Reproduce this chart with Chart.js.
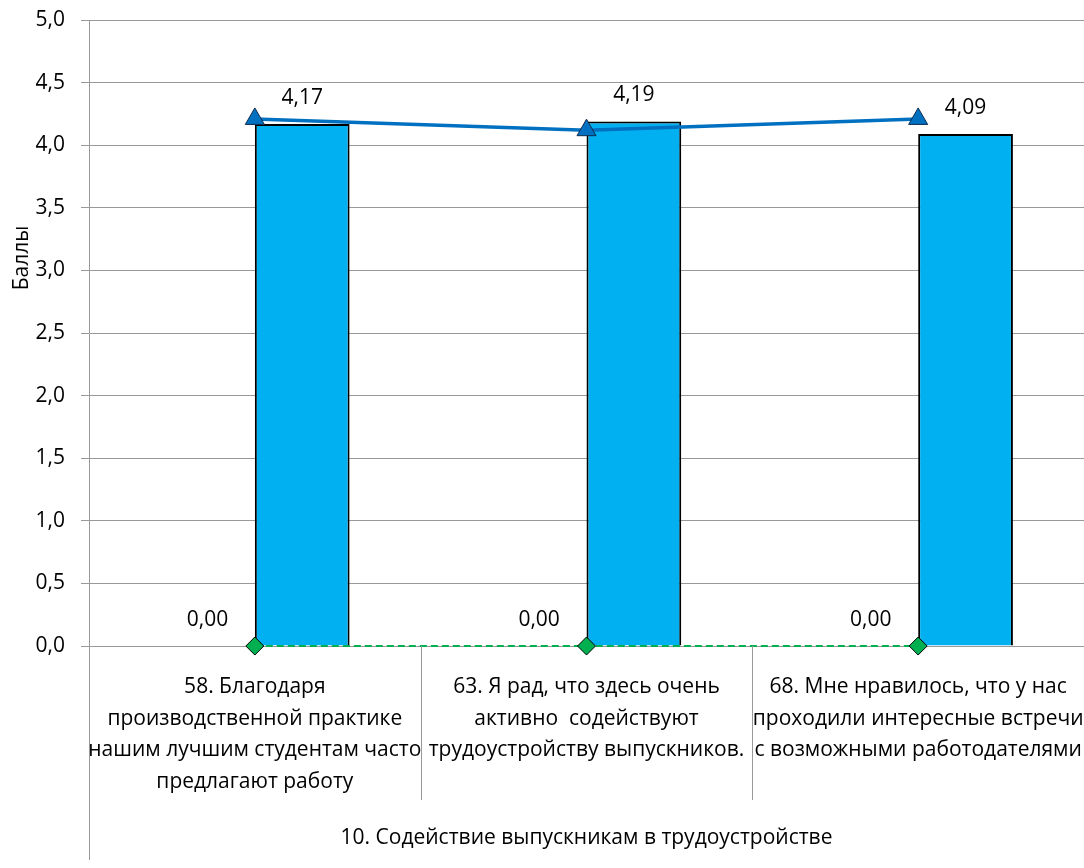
<!DOCTYPE html>
<html>
<head>
<meta charset="utf-8">
<script src="https://cdn.jsdelivr.net/npm/chart.js@4/dist/chart.umd.min.js"></script>
<style>
  body { margin: 0; background: #fff; }
</style>
</head>
<body>
<canvas id="Chart" width="1084" height="868"></canvas>
<script>
 // data
 const categories = [
   ['58. Благодаря', 'производственной практике', 'нашим лучшим студентам часто', 'предлагают работу'],
   ['63. Я рад, что здесь очень', 'активно  содействуют', 'трудоустройству выпускников.'],
   ['68. Мне нравилось, что у нас', 'проходили интересные встречи', 'с возможными работодателями']
 ];
 const groupLabel = '10. Содействие выпускникам в трудоустройстве';
 const zeroBars = [0, 0, 0];
 const scoreBars = [4.17, 4.19, 4.09];
 const blueLine = [4.21, 4.12, 4.21];
 const greenLine = [0, 0, 0];
 const yTicks = [0, 0.5, 1, 1.5, 2, 2.5, 3, 3.5, 4, 4.5, 5];

 const FONT = '"Open Sans", Lato, sans-serif';
 const FS = 21;
 const comma = (v, d) => v.toFixed(d).replace('.', ',');

 // labels, separators and titles that Chart.js can't do by itself
 const extras = {
   id: 'extras',
   afterDatasetsDraw(chart) {
     const c = chart.ctx;
     const x = chart.scales.x, a = chart.chartArea;
     c.save();
     c.font = FS + 'px ' + FONT;
     c.fillStyle = '#000';
     c.textAlign = 'center';
     c.textBaseline = 'middle';
     [0, 1].forEach(di => {
       chart.getDatasetMeta(di).data.forEach((bar, i) => {
         const v = chart.data.datasets[di].data[i];
         c.fillText(comma(v, 2), bar.x, bar.y - 26);
       });
     });
     // category separators
     c.strokeStyle = '#999';
     c.lineWidth = 1;
     for (let i = 1; i < categories.length; i++) {
       const px = Math.round((x.getPixelForValue(i - 1) + x.getPixelForValue(i)) / 2) + 0.5;
       c.beginPath(); c.moveTo(px, a.bottom); c.lineTo(px, a.bottom + 154); c.stroke();
     }
     // axis line continues down
     c.beginPath(); c.moveTo(a.left + 0.5, a.bottom); c.lineTo(a.left + 0.5, a.bottom + 214); c.stroke();
     c.fillText(groupLabel, (a.left + a.right) / 2, a.bottom + 192);
     // y title
     c.translate(22, 258);
     c.rotate(-Math.PI / 2);
     c.fillText('Баллы', 0, 0);
     c.restore();
   }
 };

 const ctx = document.getElementById('Chart').getContext('2d');
 const myChart = new Chart(ctx, {
   type: 'bar',
   data: {
     labels: categories,
     datasets: [{
       label: 'zero',
       data: zeroBars,
       backgroundColor: '#00B0F0',
       borderColor: '#000',
       borderWidth: 2,
       order: 2
     }, {
       label: 'score',
       data: scoreBars,
       backgroundColor: '#00B0F0',
       borderColor: '#000',
       borderWidth: 2,
       order: 2
     }, {
       type: 'line',
       label: 'blue',
       data: blueLine,
       borderColor: '#0070C0',
       borderWidth: 3.5,
       pointStyle: 'triangle',
       pointRadius: 11,
       pointBackgroundColor: '#0070C0',
       pointBorderColor: '#0d2c4f',
       pointBorderWidth: 1,
       clip: false,
       order: 0
     }, {
       type: 'line',
       label: 'green',
       data: greenLine,
       borderColor: '#00B050',
       borderWidth: 2,
       borderDash: [7, 4],
       pointStyle: 'rectRot',
       pointRadius: 9,
       pointBackgroundColor: '#00B050',
       pointBorderColor: '#000',
       pointBorderWidth: 1,
       clip: false,
       order: 1
     }]
   },
   options: {
     responsive: false,
     animation: false,
     layout: { autoPadding: false, padding: { top: 20, right: 0, left: 0, bottom: 0 } },
     categoryPercentage: 0.5714,
     barPercentage: 1,
     plugins: { legend: { display: false }, tooltip: { enabled: false } },
     scales: {
       x: {
         offset: true,
         grid: { display: false },
         border: { color: '#999' },
         ticks: {
           autoSkip: false, maxRotation: 0, minRotation: 0,
           color: '#000', padding: 17,
           font: { family: FONT, size: FS, lineHeight: 1.51 }
         },
         afterFit(s) { s.height = 222; s.paddingLeft = 0; s.paddingRight = 0; }
       },
       y: {
         min: 0, max: 5,
         afterBuildTicks(s) { s.ticks = yTicks.map(v => ({ value: v })); },
         grid: { color: '#999', tickLength: 8 },
         border: { color: '#999' },
         ticks: {
           color: '#000', padding: 16,
           font: { family: FONT, size: FS },
           callback: v => comma(v, 1)
         },
         afterFit(s) { s.width = 89; s.paddingTop = 0; s.paddingBottom = 0; }
       }
     }
   },
   plugins: [extras]
 });
</script>
</body>
</html>
